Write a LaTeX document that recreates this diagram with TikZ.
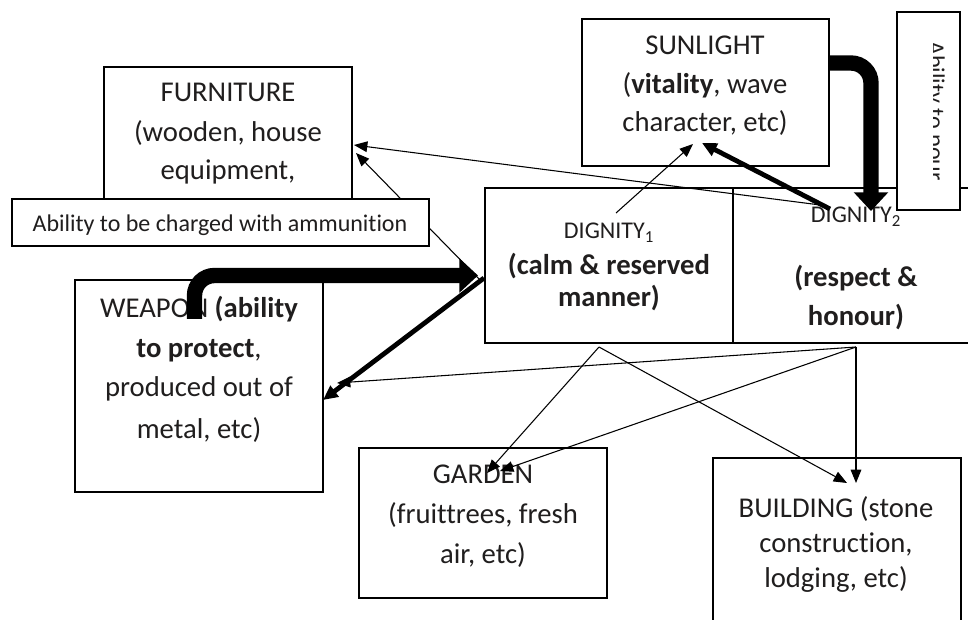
\documentclass[tikz,border=0pt]{standalone}
\usepackage{fontspec}
\setmainfont{Carlito}[Ligatures=NoCommon]
\usetikzlibrary{arrows.meta,fit}
\definecolor{ink}{RGB}{32,30,30}
\begin{document}
\begin{tikzpicture}[x=0.75pt,y=-0.75pt,
  box/.style={draw=black,line width=1.5pt,fill=white,inner sep=0pt,rectangle},
  big/.style={font=\fontsize{21.5}{26}\selectfont,text=ink,inner sep=0pt,anchor=base},
  small/.style={font=\fontsize{18}{22}\selectfont,text=ink,inner sep=0pt,anchor=base},
  thinarrow/.style={draw=black,line width=0.8pt,-{Triangle[length=10pt,width=8pt]}},
  midarrow/.style={draw=black,line width=3.6pt,-{Triangle[length=11pt,width=10pt]}},
  heavyarrow/.style={draw=black,line width=11.5pt,rounded corners=15pt,-{Triangle[length=14pt,width=25pt]}}]
\useasboundingbox (0,0) rectangle (968,620);
\clip (0,0) rectangle (968,620);

% boxes
\node[box,fit={(104,67) (352,230)}] (furn) {};
\node[box,fit={(75,280) (323,492)}] (weap) {};
\node[box,fit={(582,19) (829,166)}] (sun) {};
\node[box,fit={(485,188) (733,343)}] (dig1) {};
\node[box,fit={(733,188) (990,343)}] (dig2) {};
\node[box,fit={(359,448) (607,598)}] (gard) {};
\node[box,fit={(713,458) (961,650)}] (bldg) {};
\node[box,fit={(897,12) (960,210)}] (pour) {};
\begin{scope}
  \clip (933,14) rectangle (958,208);
  \node[small,rotate=-90] (pourtxt) at (928,111) {Ability to pour};
\end{scope}

% texts
\node[big] (furnA) at (228,102) {FURNITURE};
\node[big] (furnB) at (228,142) {(wooden, house};
\node[big] (furnC) at (228,180) {equipment,};

\node[big] (weapA) at (199,318) {WEAPON \textbf{(ability}};
\node[big] (weapB) at (199,358) {\textbf{to protect},};
\node[big] (weapC) at (199,397) {produced out of};
\node[big] (weapD) at (199,438) {metal, etc)};

\node[big] (sunA) at (705,55) {SUNLIGHT};
\node[big] (sunB) at (705,94) {(\textbf{vitality}, wave};
\node[big] (sunC) at (705,132) {character, etc)};

\node[small] (digA) at (609,239) {DIGNITY\textsubscript{1}};
\node[big] (digB) at (609,275) {\textbf{(calm \& reserved}};
\node[big] (digC) at (609,307) {\textbf{manner)}};

\node[small] (digD) at (856,223) {DIGNITY\textsubscript{2}};
\node[big] (digE) at (856,287) {\textbf{(respect \&}};
\node[big] (digF) at (856,326) {\textbf{honour)}};

\node[big] (gardA) at (483,483) {GARDEN};
\node[big] (gardB) at (483,523) {(fruittrees, fresh};
\node[big] (gardC) at (483,563) {air, etc)};

\node[big] (bldgA) at (836,517) {BUILDING (stone};
\node[big] (bldgB) at (836,552) {construction,};
\node[big] (bldgC) at (836,587) {lodging, etc)};

% connector end points
\coordinate (sunR) at (829,63);
\coordinate (dig2in) at (871,211);
\coordinate (wStart) at (194.5,319);
\coordinate (dig1in) at (478,275.5);
\coordinate (dig1L) at (484,278);
\coordinate (weapR) at (323,400);
\coordinate (dig2a) at (830,209);
\coordinate (sunB2) at (702,143);
\coordinate (dig1t) at (616,213);
\coordinate (sunB1) at (693,144);
\coordinate (dig2b) at (828,206);
\coordinate (furnR1) at (354,145);
\coordinate (dig1l2) at (481,281);
\coordinate (furnR2) at (356,153);
\coordinate (dig1b) at (599,347);
\coordinate (dig2bot) at (856,347);
\coordinate (gard1) at (487,473);
\coordinate (gard2) at (500,471);
\coordinate (bldg1) at (847,483);
\coordinate (bldg2) at (856,483);
\coordinate (weap2) at (337,383);

% thin connectors
\draw[thinarrow] (dig1t) -- (sunB1);
\draw[thinarrow] (dig2b) -- (furnR1);
\draw[thinarrow] (dig1l2) -- (furnR2);
\draw[thinarrow] (dig1b) -- (gard1);
\draw[thinarrow] (dig1b) -- (bldg1);
\draw[thinarrow] (dig2bot) -- (gard2);
\draw[thinarrow] (dig2bot) -- (bldg2);
\draw[thinarrow] (dig2bot) -- (weap2);

% medium connectors
\draw[midarrow] (dig1L) -- (weapR);
\draw[midarrow] (dig2a) -- (sunB2);

% heavy connectors
\draw[heavyarrow] (sunR) -| (dig2in);
\draw[heavyarrow] (wStart) |- (dig1in);

% box on top
\node[box,fit={(12,199) (429,246)}] (abil) {};
\node[small] (abilA) at (220,232) {Ability to be charged with ammunition};
\end{tikzpicture}
\end{document}
